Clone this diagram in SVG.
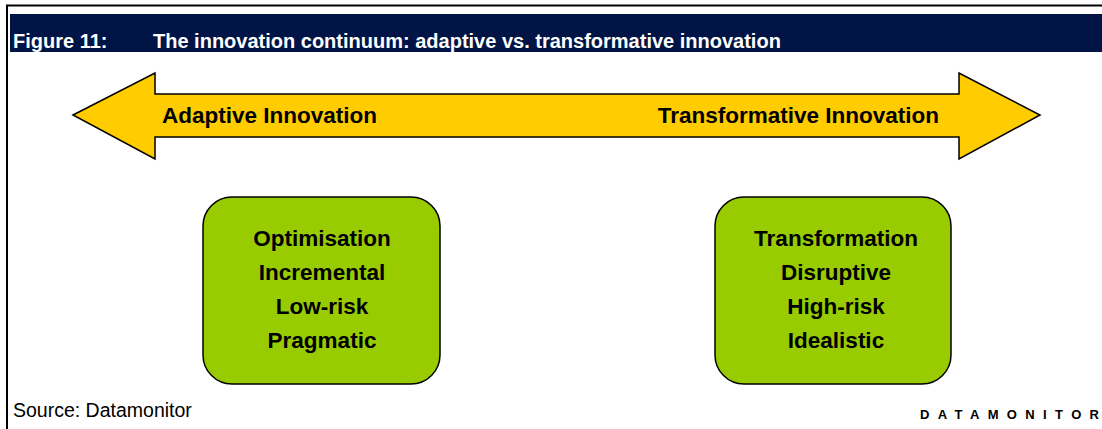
<svg xmlns="http://www.w3.org/2000/svg" width="1102" height="429" viewBox="0 0 1102 429">
  <style>
    .hdr { font-family: "Liberation Sans", Arial, sans-serif; font-weight: bold; font-size: 20px; fill: #ffffff; }
    .lbl { font-family: "Liberation Sans", Arial, sans-serif; font-weight: bold; font-size: 22.5px; fill: #000000; }
    .box { fill: #99cc00; stroke: #000000; stroke-width: 1.5; }
    .item { font-family: "Liberation Sans", Arial, sans-serif; font-weight: bold; font-size: 22.5px; fill: #000000; text-anchor: middle; }
    .src { font-family: "Liberation Sans", Arial, sans-serif; font-size: 19.5px; fill: #000000; }
    .brand { font-family: "Liberation Sans", Arial, sans-serif; font-weight: bold; font-size: 13px; fill: #000000; }
  </style>
  <rect width="1102" height="429" fill="#ffffff"/>
  <!-- outer frame -->
  <path d="M7 429 V5.5 H1102" fill="none" stroke="#000000" stroke-width="2"/>
  <!-- title band -->
  <rect x="10" y="14" width="1092" height="38" fill="#001446"/>
  <text class="hdr" x="13" y="48">Figure 11:</text>
  <text class="hdr" x="153" y="48">The innovation continuum: adaptive vs. transformative innovation</text>

  <!-- double-headed continuum arrow -->
  <g id="continuum">
    <polygon points="73,115 155,73 155,94 959,94 959,73 1040,115 959,159 959,137 155,137 155,159" fill="#ffcc00" stroke="#000000" stroke-width="1.5" stroke-linejoin="miter"/>
    <text class="lbl" x="162" y="123">Adaptive Innovation</text>
    <text class="lbl" x="939" y="123" text-anchor="end">Transformative Innovation</text>
  </g>

  <g id="adaptive">
    <rect class="box" x="203" y="197" width="237" height="187" rx="29" ry="29"/>
    <text class="item" x="322" y="246">Optimisation</text>
    <text class="item" x="322" y="280">Incremental</text>
    <text class="item" x="322" y="314">Low-risk</text>
    <text class="item" x="322" y="348">Pragmatic</text>
  </g>

  <g id="transformative">
    <rect class="box" x="715" y="197" width="236" height="187" rx="29" ry="29"/>
    <text class="item" x="836" y="246">Transformation</text>
    <text class="item" x="836" y="280">Disruptive</text>
    <text class="item" x="836" y="314">High-risk</text>
    <text class="item" x="836" y="348">Idealistic</text>
  </g>

  <g id="connectors"></g>

  <text class="src" x="13" y="417">Source: Datamonitor</text>
  <text class="brand" x="920" y="419" textLength="179" lengthAdjust="spacing">DATAMONITOR</text>
</svg>
